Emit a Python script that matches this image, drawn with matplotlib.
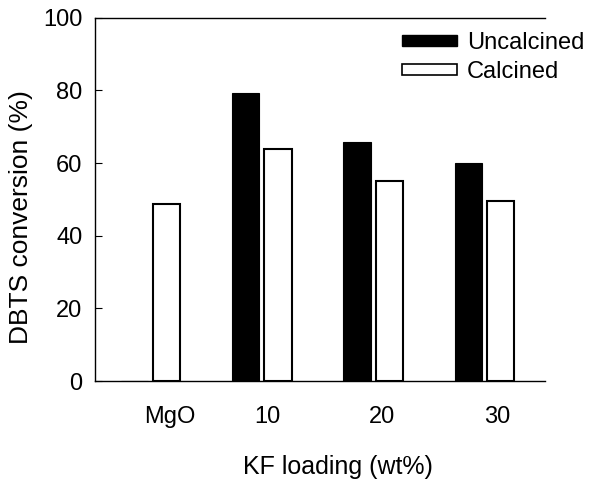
import numpy as np
import matplotlib.pyplot as plt
from matplotlib.patches import Patch

plt.rcParams['font.family'] = ['Liberation Sans', 'DejaVu Sans']

groups = ['MgO', '10', '20', '30']
uncalcined = [0, 79.2, 65.9, 60.1]
calcined = [48.7, 63.8, 55.2, 49.6]
label_pos = [0.175, 1.05, 2.08, 3.11]

fs = 17
fig = plt.figure(figsize=(5.96, 4.82), dpi=100)
ax = fig.add_axes([0.159, 0.2095, 0.755, 0.7535])

x = np.arange(len(groups))
w = 0.245
off = 0.145
ax.bar(x - off, uncalcined, w, color='black', edgecolor='black', lw=0.8)
ax.bar(x + off, calcined, w, color='white', edgecolor='black', lw=1.5)

ax.set_xlim(-0.5, 3.54)
ax.set_ylim(0, 100)
ax.set_yticks([0, 20, 40, 60, 80, 100])
ax.set_xticks(label_pos)
ax.set_xticklabels(groups)
ax.tick_params(axis='y', direction='in', length=5, labelsize=fs, pad=9)
ax.tick_params(axis='x', length=0, labelsize=fs, pad=18)
ax.spines['right'].set_visible(False)
for s in ['left', 'bottom', 'top']:
    ax.spines[s].set_linewidth(1.0)

fig.text(21 / 596, 1 - 217 / 482, 'DBTS conversion (%)', rotation=90,
         ha='center', va='center', fontsize=19)
fig.text(338 / 596, 1 - 467 / 482, 'KF loading (wt%)', ha='center', va='center', fontsize=18)

handles = [Patch(facecolor='black', edgecolor='black'),
           Patch(facecolor='white', edgecolor='black', lw=1.2)]
fig.legend(handles, ['Uncalcined', 'Calcined'], loc='upper left',
           bbox_to_anchor=(397 / 596, 1 - 27 / 482), frameon=False, fontsize=fs,
           handlelength=2.33, handleheight=0.34, handletextpad=0.42,
           labelspacing=0.32, borderpad=0.2, borderaxespad=0)

fig.savefig('out.png', dpi=100)
